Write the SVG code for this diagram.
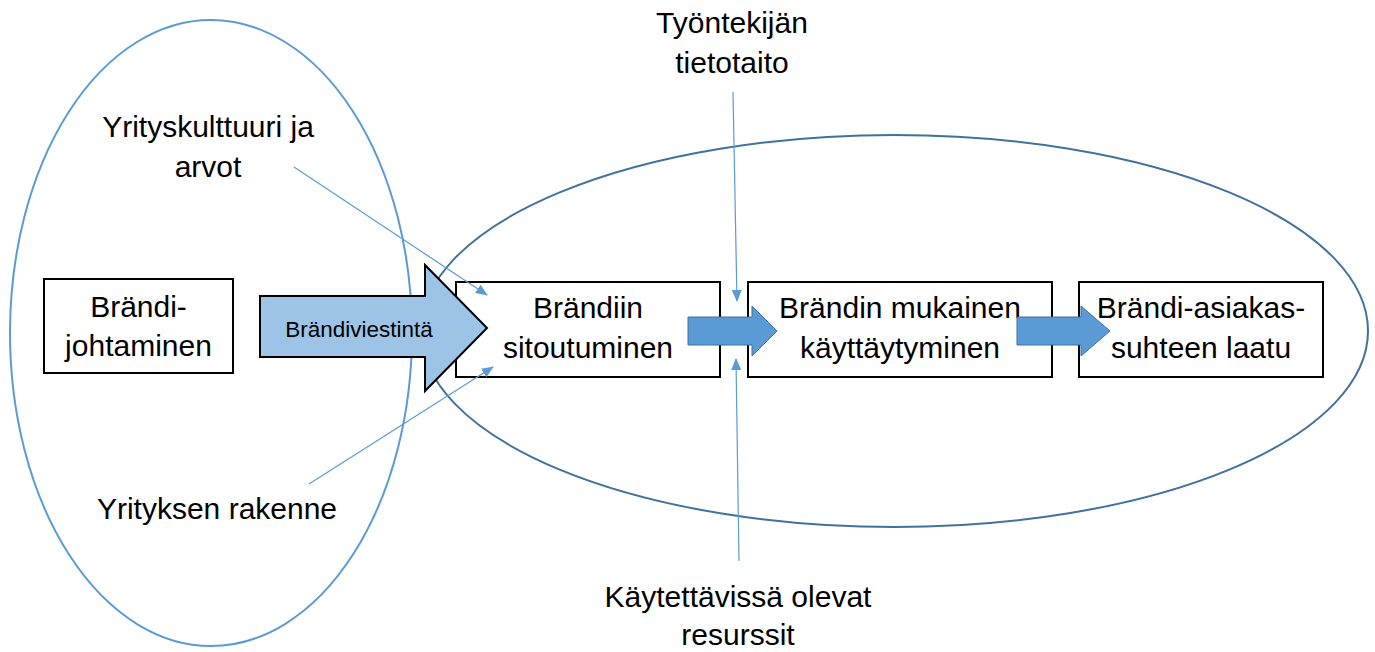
<svg xmlns="http://www.w3.org/2000/svg" width="1375" height="652" viewBox="0 0 1375 652">
  <style>
    .lbl { font-family: "Liberation Sans", Arial, sans-serif; font-size: 30px; fill: #000; text-anchor: middle; }
    .small { font-size: 22.5px; }
    .box { fill: #fff; stroke: #000; stroke-width: 2; }
    .ring-outer { fill: none; stroke: #5B9BD5; stroke-width: 2; }
    .ring-inner { fill: none; stroke: #41719C; stroke-width: 2; }
    .link { fill: none; stroke: #5B9BD5; stroke-width: 1.2; marker-end: url(#tip); }
    .flow { fill: #5B9BD5; stroke: #41719C; stroke-width: 1; }
  </style>
  <defs>
    <marker id="tip" viewBox="0 0 12 10" refX="11" refY="5" markerWidth="12" markerHeight="10" markerUnits="userSpaceOnUse" orient="auto">
      <path d="M0,0 L12,5 L0,10 Z" fill="#5B9BD5"/>
    </marker>
  </defs>

  <rect width="1375" height="652" fill="#fff"/>

  <!-- grouping ellipses -->
  <g id="scopes">
    <ellipse class="ring-outer" cx="211" cy="333" rx="201" ry="313"/>
    <ellipse class="ring-inner" cx="894.5" cy="331" rx="473.5" ry="196"/>
  </g>

  <g id="brandijohtaminen">
    <rect class="box" x="44" y="279" width="189" height="94"/>
    <text class="lbl" x="138.5" y="317">Brändi-</text>
    <text class="lbl" x="138.5" y="356">johtaminen</text>
  </g>

  <g id="sitoutuminen">
    <rect class="box" x="456" y="282" width="264" height="95"/>
    <text class="lbl" x="588" y="318">Brändiin</text>
    <text class="lbl" x="588" y="358">sitoutuminen</text>
  </g>

  <g id="brandiviestinta">
    <path d="M260,296 L425,296 L425,265 L487,328 L425,391 L425,357 L260,357 Z" fill="#9DC3E6" stroke="#000" stroke-width="2"/>
    <text class="lbl small" x="359" y="337">Brändiviestintä</text>
  </g>

  <g id="kayttaytyminen">
    <rect class="box" x="748" y="282" width="304" height="95"/>
    <text class="lbl" x="900" y="318">Brändin mukainen</text>
    <text class="lbl" x="900" y="358">käyttäytyminen</text>
  </g>

  <g id="asiakassuhde">
    <rect class="box" x="1079" y="282" width="244" height="95"/>
    <text class="lbl" x="1201" y="318">Brändi-asiakas-</text>
    <text class="lbl" x="1201" y="358">suhteen laatu</text>
  </g>

  <g id="yrityskulttuuri">
    <text class="lbl" x="208" y="137">Yrityskulttuuri ja</text>
    <text class="lbl" x="208" y="177">arvot</text>
  </g>

  <g id="rakenne">
    <text class="lbl" x="217" y="519">Yrityksen rakenne</text>
  </g>

  <g id="tietotaito">
    <text class="lbl" x="732" y="33">Työntekijän</text>
    <text class="lbl" x="732" y="73">tietotaito</text>
  </g>

  <g id="resurssit">
    <text class="lbl" x="738" y="607">Käytettävissä olevat</text>
    <text class="lbl" x="738" y="645">resurssit</text>
  </g>

  <!-- influence lines and flow arrows, drawn over the boxes -->
  <g id="connectors">
    <line class="link" x1="294" y1="167" x2="487" y2="295"/>
    <line class="link" x1="309" y1="484" x2="493" y2="367"/>
    <line class="link" x1="733" y1="92" x2="737" y2="301"/>
    <line class="link" x1="739" y1="561" x2="736" y2="359"/>
    <path class="flow" d="M688,317 L752,317 L752,306 L777,331 L752,356 L752,345 L688,345 Z"/>
    <path class="flow" d="M1017,317 L1081,317 L1081,306 L1110,331 L1081,356 L1081,345 L1017,345 Z"/>
  </g>
</svg>
